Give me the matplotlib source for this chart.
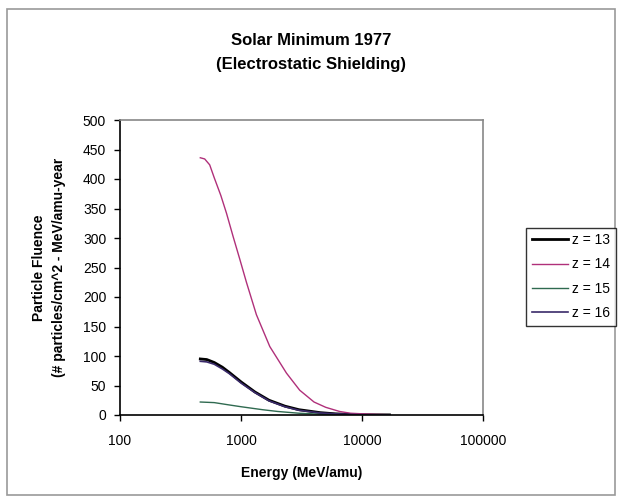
import matplotlib
matplotlib.use('Agg')
import matplotlib.pyplot as plt
from matplotlib.patches import Rectangle

plt.rcParams['font.family'] = ['Liberation Sans', 'DejaVu Sans']

# energy (MeV/amu) and fluence values
e13 = [460, 520, 600, 700, 800, 1000, 1300, 1700, 2300, 3000, 4500, 6000, 8000, 10000, 13000, 16800]
f13 = [95, 94, 89, 81, 72, 56, 39, 25, 15, 9, 4, 2, 1, 0.5, 0.3, 0.2]
e14 = [460, 500, 550, 600, 680, 757, 860, 975, 1106, 1337, 1725, 2368, 3047, 4000, 5000, 6500, 8000, 10000, 13000, 16800]
f14 = [436, 434, 424, 402, 372, 342, 302, 264, 225, 170, 116, 71, 42, 22, 13, 6, 3, 2, 1, 0.5]
e15 = [460, 600, 800, 1000, 1500, 2000, 3000, 5000, 8000, 12000, 16800]
f15 = [22, 21, 17, 14, 9, 6, 3, 1, 0.3, 0.1, 0.05]
e16 = [460, 520, 600, 700, 800, 1000, 1300, 1700, 2300, 3000, 4500, 6000, 8000, 10000, 13000, 16800]
f16 = [91, 90, 86, 78, 70, 54, 38, 24, 14, 8, 3.5, 2, 1, 0.5, 0.3, 0.2]

fig = plt.figure(figsize=(6.22, 5.0), dpi=100)
fig.patches.append(Rectangle((0.012, 0.01), 0.976, 0.972, transform=fig.transFigure,
                             fill=False, edgecolor='#999999', linewidth=1.2))
ax = fig.add_axes([0.193, 0.17, 0.584, 0.59])

ax.plot(e13, f13, color='black', linewidth=2.0, label='z = 13')
ax.plot(e14, f14, color='#b0307a', linewidth=1.0, label='z = 14')
ax.plot(e15, f15, color='#2f6a50', linewidth=1.0, label='z = 15')
ax.plot(e16, f16, color='#3a2a6a', linewidth=1.2, label='z = 16')

ax.set_xscale('log')
ax.set_xlim(100, 100000)
ax.set_ylim(0, 500)
ax.set_yticks(range(0, 501, 50))
ax.set_xticks([100, 1000, 10000, 100000])
ax.set_xticklabels(['100', '1000', '10000', '100000'])
ax.minorticks_off()
ax.tick_params(axis='both', direction='out', length=4, width=1, labelsize=10)
ax.tick_params(axis='x', pad=10)
ax.tick_params(axis='y', pad=6)

for s in ['left', 'bottom']:
    ax.spines[s].set_color('black')
    ax.spines[s].set_linewidth(1.2)
for s in ['top', 'right']:
    ax.spines[s].set_color('#888888')
    ax.spines[s].set_linewidth(1.2)

fig.text(0.5, 0.895, 'Solar Minimum 1977\n(Electrostatic Shielding)', ha='center', va='center',
         fontsize=12, fontweight='bold', linespacing=1.75)
ax.set_xlabel('Energy (MeV/amu)', fontsize=10, fontweight='bold', labelpad=13)
ax.set_ylabel('Particle Fluence\n(# particles/cm^2 - MeV/amu-year', fontsize=10,
              fontweight='bold', labelpad=12, linespacing=1.55)

leg = fig.legend(loc='upper left', bbox_to_anchor=(0.846, 0.545), fontsize=10,
                 frameon=True, fancybox=False, handlelength=2.6, handletextpad=0.3,
                 borderpad=0.4, labelspacing=0.75, borderaxespad=0)
leg.get_frame().set_edgecolor('black')
leg.get_frame().set_linewidth(1.0)

fig.savefig('out.png', dpi=100)
